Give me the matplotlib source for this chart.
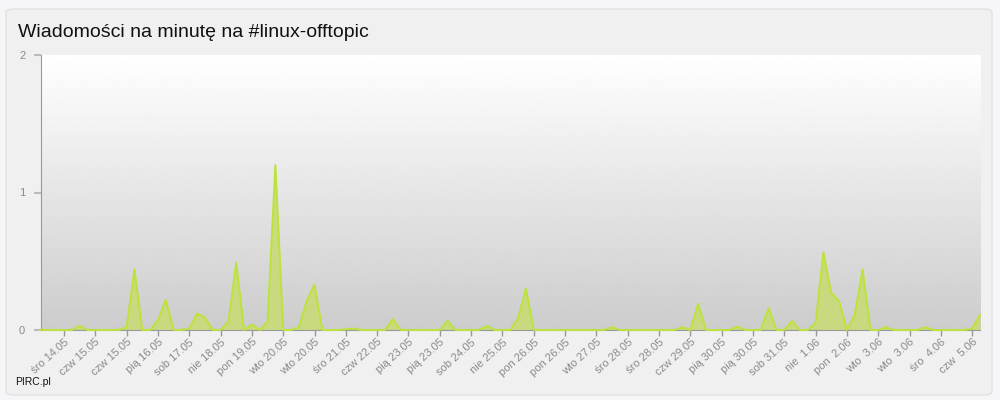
import matplotlib.pyplot as plt
import numpy as np
from matplotlib.patches import FancyBboxPatch

plt.rcParams['font.family'] = ['Liberation Sans', 'DejaVu Sans']

# wiadomości na minutę, 121 próbek
wartosci = [
    0, 0, 0, 0, 0, 0.03, 0, 0, 0, 0,
    0, 0.02, 0.44, 0, 0, 0.07, 0.22, 0, 0, 0.01,
    0.12, 0.09, 0, 0, 0.06, 0.49, 0, 0.04, 0, 0.06,
    1.2, 0, 0, 0.02, 0.21, 0.33, 0, 0, 0, 0.005,
    0.01, 0, 0, 0, 0, 0.08, 0, 0, 0, 0,
    0, 0, 0.065, 0, 0, 0, 0, 0.03, 0, 0,
    0, 0.085, 0.30, 0, 0, 0, 0, 0, 0, 0,
    0, 0, 0, 0.02, 0, 0, 0, 0, 0, 0,
    0, 0, 0.02, 0, 0.19, 0, 0, 0, 0, 0.025,
    0, 0, 0, 0.16, 0, 0, 0.065, 0, 0, 0.05,
    0.565, 0.27, 0.21, 0, 0.11, 0.44, 0, 0, 0.02, 0,
    0, 0, 0, 0.02, 0, 0, 0, 0, 0, 0.01,
    0.11,
]

etykiety = [
    "śro 14.05", "czw 15.05", "czw 15.05", "pią 16.05", "sob 17.05",
    "nie 18.05", "pon 19.05", "wto 20.05", "wto 20.05", "śro 21.05",
    "czw 22.05", "pią 23.05", "pią 23.05", "sob 24.05", "nie 25.05",
    "pon 26.05", "pon 26.05", "wto 27.05", "śro 28.05", "śro 28.05",
    "czw 29.05", "pią 30.05", "pią 30.05", "sob 31.05", "nie  1.06",
    "pon  2.06", "wto  3.06", "wto  3.06", "śro  4.06", "czw  5.06",
]
pozycje_etykiet = [3 + 4 * k for k in range(len(etykiety))]

x = np.arange(len(wartosci))

fig = plt.figure(figsize=(10, 4), dpi=100)
fig.patch.set_facecolor('#f6f6f8')
panel = FancyBboxPatch((0.006, 0.0125), 0.986, 0.965,
                       boxstyle="round,pad=0,rounding_size=0.008",
                       transform=fig.transFigure, facecolor='#f0f0f0',
                       edgecolor='#e2e2e2', linewidth=1, zorder=-10)
fig.add_artist(panel)

ax = fig.add_axes([0.0405, 0.175, 0.9395, 0.6875])
ax.set_facecolor('none')
ax.set_zorder(1)

# gradient tła
grad = np.linspace(1.0, 0.8, 256).reshape(-1, 1)
ax.imshow(grad, cmap='gray', vmin=0, vmax=1, aspect='auto',
          extent=[0, 1, 0, 1], transform=ax.transAxes, zorder=0)

ax.fill_between(x, wartosci, 0, color='#c8da7c', alpha=0.95, zorder=2, linewidth=0)
ax.plot(x, wartosci, color='#bde33a', linewidth=1.4, zorder=4, clip_on=False)

ax.set_xlim(0, len(wartosci) - 1)
ax.set_ylim(0, 2)
ax.set_yticks([0, 1, 2])
ax.set_yticklabels(['0', '1', '2'])
ax.set_xticks(pozycje_etykiet)
ax.set_xticklabels(etykiety, rotation=42, ha='right', rotation_mode='anchor')

for s in ['top', 'right']:
    ax.spines[s].set_visible(False)
ax.spines['left'].set_color('#999999')
ax.spines['bottom'].set_color('#999999')
ax.spines['bottom'].set_zorder(3)
ax.tick_params(axis='x', colors='#999999', labelsize=8, length=4, width=1, pad=1,
               labelcolor='#8a8a8a')
ax.tick_params(axis='y', colors='#bbbbbb', labelsize=8, length=5, width=1.5, pad=6,
               labelcolor='#8a8a8a')

fig.text(0.018, 0.918, "Wiadomości na minutę na #linux-offtopic", fontsize=14,
         color='#111111', va='center', ha='left')
fig.text(0.015, 0.045, "PIRC.pl", fontsize=7.5, color='#111111', va='center', ha='left')

fig.savefig('out.png', dpi=100, facecolor=fig.get_facecolor())
